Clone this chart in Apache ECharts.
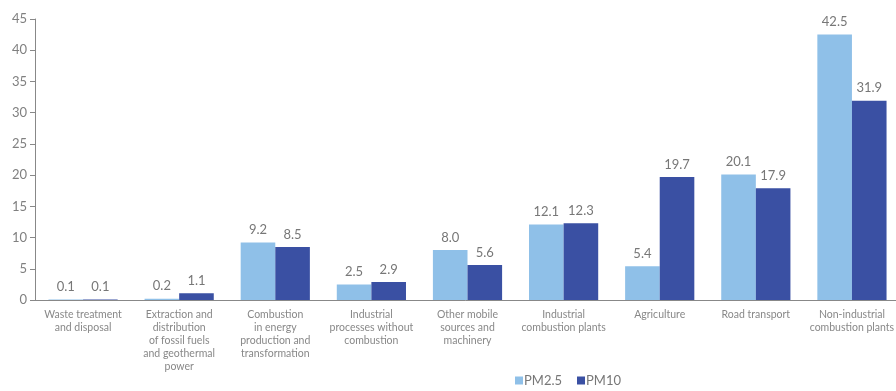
<!DOCTYPE html>
<html>
<head>
<meta charset="UTF-8">
<title>pm_sources</title>
<script src="https://cdn.jsdelivr.net/npm/echarts@6/dist/echarts.min.js"></script>
<style>
  html, body { margin: 0; padding: 0; background: #fff; overflow: hidden; }
  #main { width: 896px; height: 391px; }
</style>
</head>
<body>
<div id="main"></div>
<script>
var categories = [
  'Waste treatment\nand disposal',
  'Extraction and\ndistribution\nof fossil fuels\nand geothermal\npower',
  'Combustion\nin energy\nproduction and\ntransformation',
  'Industrial\nprocesses without\ncombustion',
  'Other mobile\nsources and\nmachinery',
  'Industrial\ncombustion plants',
  'Agriculture',
  'Road transport',
  'Non-industrial\ncombustion plants'
];
var pm25 = [0.1, 0.2, 9.2, 2.5, 8.0, 12.1, 5.4, 20.1, 42.5];
var pm10 = [0.1, 1.1, 8.5, 2.9, 5.6, 12.3, 19.7, 17.9, 31.9];

var myChart = echarts.init(document.getElementById('main'));
var labelStyle = {
  show: true,
  position: 'top',
  color: '#777',
  fontSize: 13,
  fontFamily: 'Lato',
  distance: 6,
  formatter: function (p) { return p.value.toFixed(1); }
};
option = {
  animation: false,
  textStyle: { fontFamily: 'Lato' },
  // plot area runs a few px past the right edge, like the original
  grid: { left: 35, width: 865, top: 19, height: 281, containLabel: false, outerBoundsMode: 'none' },
  legend: {
    top: 374,
    left: 515,
    itemWidth: 8,
    itemHeight: 8,
    itemGap: 15,
    icon: 'rect',
    padding: 0,
    textStyle: { color: '#777', fontSize: 13, padding: [0, 0, 0, -4] },
    data: ['PM2.5', 'PM10']
  },
  xAxis: {
    type: 'category',
    data: categories,
    axisLine: { lineStyle: { color: '#888' } },
    axisTick: { show: false },
    axisLabel: { interval: 0, color: '#888', fontSize: 10.5, lineHeight: 13, margin: 8 }
  },
  yAxis: {
    type: 'value',
    min: 0,
    max: 45,
    interval: 5,
    axisLine: { show: true, lineStyle: { color: '#888' } },
    axisTick: { show: true, inside: false, length: 5, lineStyle: { color: '#888' } },
    splitLine: { show: false },
    axisLabel: { color: '#808080', fontSize: 13, margin: 8 }
  },
  series: [
    {
      name: 'PM2.5',
      type: 'bar',
      data: pm25,
      barGap: '0%',
      barCategoryGap: '28%',
      itemStyle: { color: '#8fc0e8' },
      label: labelStyle
    },
    {
      name: 'PM10',
      type: 'bar',
      data: pm10,
      itemStyle: { color: '#3a50a3' },
      label: labelStyle
    }
  ]
};
myChart.setOption(option);
</script>
</body>
</html>
